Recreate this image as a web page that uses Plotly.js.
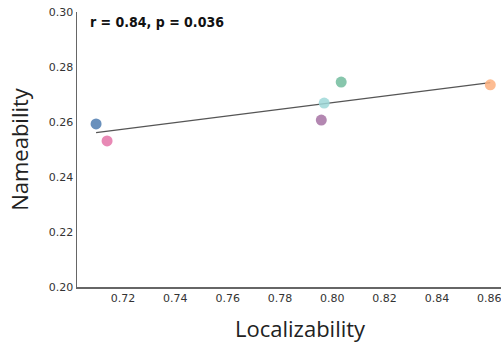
<!DOCTYPE html>
<html><head><meta charset="utf-8">
<script src="https://cdn.plot.ly/plotly-3.0.1.min.js"></script>
<style>html,body{margin:0;padding:0;background:#fff;}#chart{width:501px;height:345px;}</style>
</head><body><div id="chart"></div>
<script>
const localizability = [0.7097, 0.7139, 0.7958, 0.7969, 0.8034, 0.8604];
const nameability = [0.2593, 0.2531, 0.2607, 0.2669, 0.2745, 0.2735];
const pointColors = ['#4f7db0', '#e474a8', '#a672a3', '#9ed8d8', '#72bc9d', '#fdb07f'];
const fitX = [0.7097, 0.8604];
const fitY = [0.2561, 0.2743];
const xTicks = [0.72, 0.74, 0.76, 0.78, 0.80, 0.82, 0.84, 0.86];
const yTicks = [0.20, 0.22, 0.24, 0.26, 0.28, 0.30];
const statText = 'r = 0.84, p = 0.036';
const xTitle = 'Localizability';
const yTitle = 'Nameability';

const data = [
  {x: fitX, y: fitY, mode: 'lines', type: 'scatter', line: {color: '#555555', width: 1.3}, hoverinfo: 'skip'},
  {x: localizability, y: nameability, mode: 'markers', type: 'scatter',
   marker: {size: 11, color: pointColors, opacity: 0.85, line: {width: 0}}}
];
const tickFont = {family: 'DejaVu Sans, sans-serif', size: 11, color: '#333'};
const titleFont = {family: 'Open Sans, sans-serif', size: 22, color: '#222'};
const layout = {
  width: 501, height: 345,
  margin: {l: 77, r: 0, t: 12, b: 58},
  paper_bgcolor: '#fff', plot_bgcolor: '#fff',
  showlegend: false,
  xaxis: {range: [0.7024, 0.8645], tickvals: xTicks, ticktext: xTicks.map(v => v.toFixed(2)),
    showgrid: false, zeroline: false, showline: true, linecolor: '#666', linewidth: 1.5,
    ticks: '', ticklen: 0, tickfont: tickFont, ticklabeloverflow: 'allow'},
  yaxis: {range: [0.20, 0.30], tickvals: yTicks, ticktext: yTicks.map(v => v.toFixed(2)),
    showgrid: false, zeroline: false, showline: true, linecolor: '#666', linewidth: 1.5,
    ticks: '', ticklen: 0, tickfont: tickFont, ticklabeloverflow: 'allow',
    title: {text: yTitle, font: titleFont, standoff: 14}},
  annotations: [
    {text: '<b>' + statText + '</b>', xref: 'paper', yref: 'paper', x: 0.025, y: 0.962,
     xanchor: 'left', yanchor: 'middle', showarrow: false,
     font: {family: 'DejaVu Sans Condensed, DejaVu Sans, sans-serif', size: 14, color: '#111'}},
    {text: xTitle, xref: 'paper', yref: 'paper', x: 0.526, y: -0.15,
     xanchor: 'center', yanchor: 'middle', showarrow: false, font: titleFont}
  ]
};
Plotly.newPlot('chart', data, layout, {displayModeBar: false, staticPlot: true});
</script></body></html>
